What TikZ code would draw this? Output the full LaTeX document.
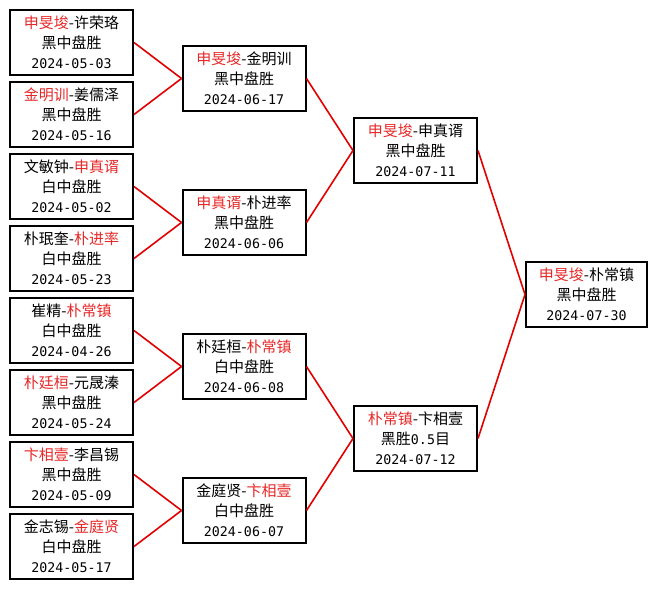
\documentclass[tikz,border=0pt]{standalone}
\usepackage{fontspec}
\setmainfont{Noto Sans CJK SC}
\newfontfamily\datefont{DejaVu Sans Mono}
\definecolor{wred}{RGB}{232,40,40}
\definecolor{lred}{RGB}{226,0,0}
\newcommand\wn[1]{\textcolor{wred}{#1}}
\newcommand\mydate[1]{{\datefont\fontsize{13.3pt}{20pt}\selectfont #1}}
\begin{document}
\begin{tikzpicture}[x=1pt,y=-1pt,
  game/.style={draw=black,line width=2pt,fill=white,minimum width=123pt,minimum height=65pt,inner sep=0pt,align=center,font=\fontsize{15pt}{20pt}\selectfont},
  link/.style={draw=lred,line width=1.6pt}]
\useasboundingbox[fill=white] (0,0) rectangle (657,589);
% round 1
\node[game] (a1) at (71.5,42.5)  {\wn{申旻埈}-许荣珞\\黑中盘胜\\\mydate{2024-05-03}};
\node[game] (a2) at (71.5,114.5) {\wn{金明训}-姜儒泽\\黑中盘胜\\\mydate{2024-05-16}};
\node[game] (a3) at (71.5,186.5) {文敏钟-\wn{申真谞}\\白中盘胜\\\mydate{2024-05-02}};
\node[game] (a4) at (71.5,258.5) {朴珉奎-\wn{朴进率}\\白中盘胜\\\mydate{2024-05-23}};
\node[game] (a5) at (71.5,330.5) {崔精-\wn{朴常镇}\\白中盘胜\\\mydate{2024-04-26}};
\node[game] (a6) at (71.5,402.5) {\wn{朴廷桓}-元晟溱\\黑中盘胜\\\mydate{2024-05-24}};
\node[game] (a7) at (71.5,474.5) {\wn{卞相壹}-李昌锡\\黑中盘胜\\\mydate{2024-05-09}};
\node[game] (a8) at (71.5,546.5) {金志锡-\wn{金庭贤}\\白中盘胜\\\mydate{2024-05-17}};
% round 2
\node[game] (b1) at (244,78.5)  {\wn{申旻埈}-金明训\\黑中盘胜\\\mydate{2024-06-17}};
\node[game] (b2) at (244,222.5) {\wn{申真谞}-朴进率\\黑中盘胜\\\mydate{2024-06-06}};
\node[game] (b3) at (244,366.5) {朴廷桓-\wn{朴常镇}\\白中盘胜\\\mydate{2024-06-08}};
\node[game] (b4) at (244,510.5) {金庭贤-\wn{卞相壹}\\白中盘胜\\\mydate{2024-06-07}};
% round 3
\node[game] (c1) at (415.5,150.5) {\wn{申旻埈}-申真谞\\黑中盘胜\\\mydate{2024-07-11}};
\node[game] (c2) at (415.5,438.5) {\wn{朴常镇}-卞相壹\\黑胜\mydate{0.5}目\\\mydate{2024-07-12}};
% final
\node[game,minimum width=121pt] (d1) at (586.5,294.5) {\wn{申旻埈}-朴常镇\\黑中盘胜\\\mydate{2024-07-30}};
% connectors
\draw[link] (a1.east) -- (b1.west);
\draw[link] (a2.east) -- (b1.west);
\draw[link] (a3.east) -- (b2.west);
\draw[link] (a4.east) -- (b2.west);
\draw[link] (a5.east) -- (b3.west);
\draw[link] (a6.east) -- (b3.west);
\draw[link] (a7.east) -- (b4.west);
\draw[link] (a8.east) -- (b4.west);
\draw[link] (b1.east) -- (c1.west);
\draw[link] (b2.east) -- (c1.west);
\draw[link] (b3.east) -- (c2.west);
\draw[link] (b4.east) -- (c2.west);
\draw[link] (c1.east) -- (d1.west);
\draw[link] (c2.east) -- (d1.west);
\end{tikzpicture}
\end{document}
